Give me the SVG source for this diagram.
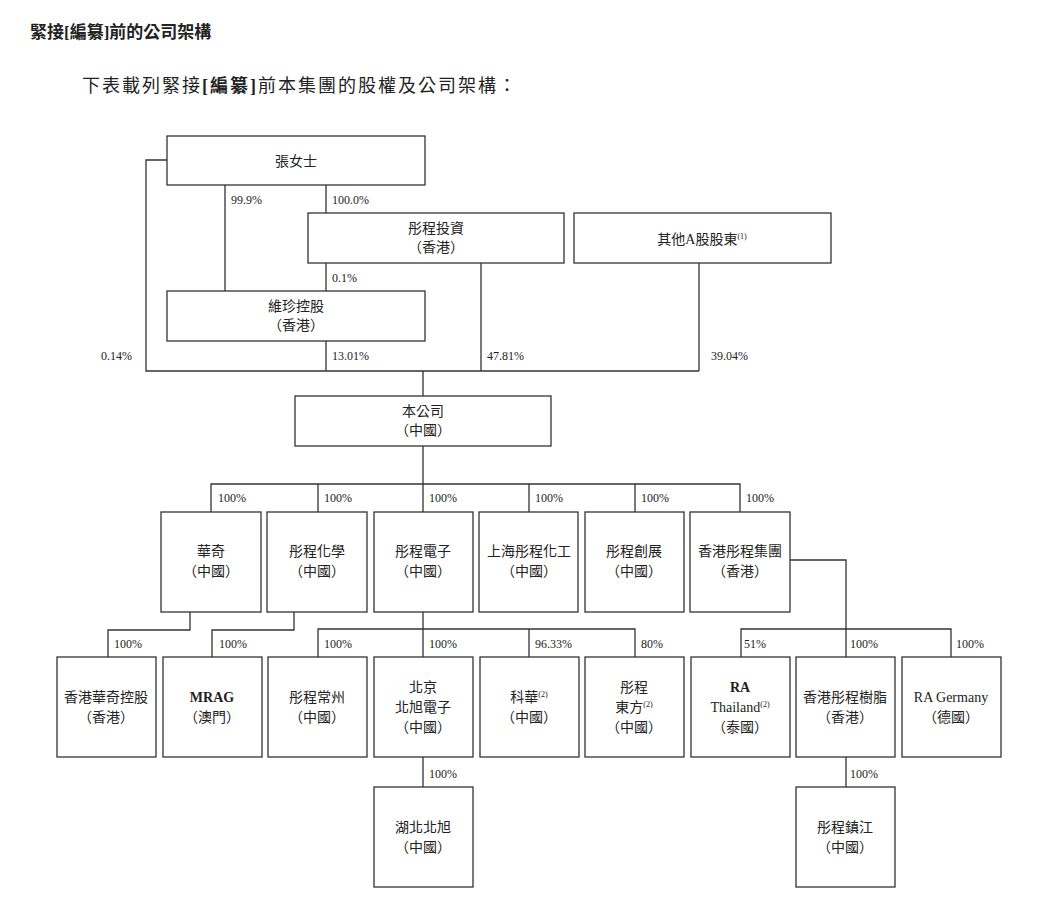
<svg xmlns="http://www.w3.org/2000/svg" width="1048" height="915" viewBox="0 0 1048 915">
<style>
text{font-family:"Liberation Serif","Noto Sans CJK TC",serif;fill:#222}
.t{font-size:13px}
.n{font-size:14px;text-anchor:middle}
.p{font-size:12px}
.s{font-size:8px}
rect{fill:#fff;stroke:#333;stroke-width:1.3}
#c path{fill:none;stroke:#333;stroke-width:1.3}
</style>
<rect x="0" y="0" width="1048" height="915" style="stroke:none"/>
<text x="30" y="38" style="font-size:17px;font-weight:bold">緊接[編纂]前的公司架構</text>
<text x="82" y="92" style="font-size:18px;letter-spacing:2px">下表載列緊接<tspan font-weight="bold">[編纂]</tspan>前本集團的股權及公司架構：</text>
<g id="c">
<path d="M167 160H146V371H699M225 185V291M326 185V213M326 263V291M326 341V371M481 263V371M699 263V371M423 371V396M423 446V484M211 512V484H740V512M318 484V512M423 484V512M529 484V512M635 484V512M190 612V630H108V657M294 612V630H212V657M423 612V657M318 657V629H635V657M529 629V657M790 560H846V657M741 657V629H951V657M423 757V787M846 757V787"/>
</g>
<g class="p">
<text x="231" y="204">99.9%</text><text x="332" y="204">100.0%</text>
<text x="332" y="282">0.1%</text>
<text x="101" y="360">0.14%</text><text x="332" y="360">13.01%</text><text x="487" y="360">47.81%</text><text x="711" y="360">39.04%</text>
<text x="218" y="502">100%</text><text x="324" y="502">100%</text><text x="429" y="502">100%</text><text x="535" y="502">100%</text><text x="641" y="502">100%</text><text x="746" y="502">100%</text>
<text x="114" y="648">100%</text><text x="219" y="648">100%</text><text x="324" y="648">100%</text><text x="429" y="648">100%</text><text x="535" y="648">96.33%</text><text x="641" y="648">80%</text>
<text x="744" y="648">51%</text><text x="850" y="648">100%</text><text x="956" y="648">100%</text>
<text x="429" y="778">100%</text><text x="850" y="778">100%</text>
</g>
<g id="n1"><rect x="167" y="136" width="258" height="49"/><text class="n" x="296" y="166">張女士</text></g>
<g id="n2"><rect x="308" y="213" width="256" height="50"/><text class="n" x="436" y="233">彤程投資</text><text class="n" x="436" y="252">（香港）</text></g>
<g id="n3"><rect x="574" y="213" width="257" height="50"/><text class="n" x="702" y="244">其他A股股東<tspan class="s" dy="-5">(1)</tspan></text></g>
<g id="n4"><rect x="167" y="291" width="258" height="50"/><text class="n" x="296" y="311">維珍控股</text><text class="n" x="296" y="330">（香港）</text></g>
<g id="n5"><rect x="295" y="396" width="256" height="50"/><text class="n" x="423" y="416">本公司</text><text class="n" x="423" y="435">（中國）</text></g>
<g id="n6"><rect x="161" y="512" width="100" height="100"/><text class="n" x="211" y="556">華奇</text><text class="n" x="211" y="576">（中國）</text></g>
<g id="n7"><rect x="267" y="512" width="100" height="100"/><text class="n" x="317" y="556">彤程化學</text><text class="n" x="317" y="576">（中國）</text></g>
<g id="n8"><rect x="374" y="512" width="99" height="100"/><text class="n" x="423" y="556">彤程電子</text><text class="n" x="423" y="576">（中國）</text></g>
<g id="n9"><rect x="479" y="512" width="99" height="100"/><text class="n" x="529" y="556">上海彤程化工</text><text class="n" x="529" y="576">（中國）</text></g>
<g id="n10"><rect x="585" y="512" width="99" height="100"/><text class="n" x="634" y="556">彤程創展</text><text class="n" x="634" y="576">（中國）</text></g>
<g id="n11"><rect x="690" y="512" width="100" height="100"/><text class="n" x="740" y="556">香港彤程集團</text><text class="n" x="740" y="576">（香港）</text></g>
<g id="n12"><rect x="57" y="657" width="99" height="100"/><text class="n" x="106" y="702">香港華奇控股</text><text class="n" x="106" y="722">（香港）</text></g>
<g id="n13"><rect x="163" y="657" width="99" height="100"/><text class="n" x="212" y="702" font-weight="bold">MRAG</text><text class="n" x="212" y="722">（澳門）</text></g>
<g id="n14"><rect x="268" y="657" width="99" height="100"/><text class="n" x="317" y="702">彤程常州</text><text class="n" x="317" y="722">（中國）</text></g>
<g id="n15"><rect x="374" y="657" width="99" height="100"/><text class="n" x="423" y="692">北京</text><text class="n" x="423" y="712">北旭電子</text><text class="n" x="423" y="732">（中國）</text></g>
<g id="n16"><rect x="480" y="657" width="99" height="100"/><text class="n" x="529" y="702">科華<tspan class="s" dy="-5">(2)</tspan></text><text class="n" x="529" y="722">（中國）</text></g>
<g id="n17"><rect x="585" y="657" width="99" height="100"/><text class="n" x="634" y="692">彤程</text><text class="n" x="634" y="712">東方<tspan class="s" dy="-5">(2)</tspan></text><text class="n" x="634" y="732">（中國）</text></g>
<g id="n18"><rect x="691" y="657" width="99" height="100"/><text class="n" x="740" y="692" font-weight="bold">RA</text><text class="n" x="740" y="712">Thailand<tspan class="s" dy="-5">(2)</tspan></text><text class="n" x="740" y="732">（泰國）</text></g>
<g id="n19"><rect x="796" y="657" width="99" height="100"/><text class="n" x="845" y="702">香港彤程樹脂</text><text class="n" x="845" y="722">（香港）</text></g>
<g id="n20"><rect x="902" y="657" width="99" height="100"/><text class="n" x="951" y="702">RA Germany</text><text class="n" x="951" y="722">（德國）</text></g>
<g id="n21"><rect x="374" y="787" width="99" height="100"/><text class="n" x="423" y="832">湖北北旭</text><text class="n" x="423" y="852">（中國）</text></g>
<g id="n22"><rect x="796" y="787" width="99" height="100"/><text class="n" x="845" y="832">彤程鎮江</text><text class="n" x="845" y="852">（中國）</text></g>
</svg>
